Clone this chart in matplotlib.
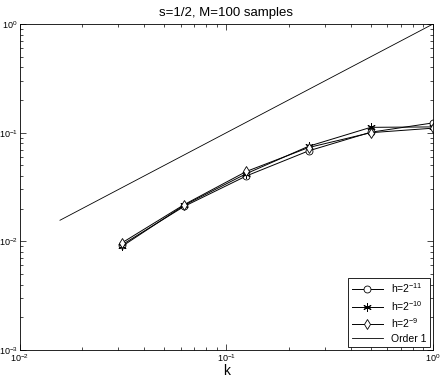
import matplotlib
matplotlib.use("Agg")
import matplotlib.pyplot as plt

plt.rcParams['font.family'] = ['Liberation Sans', 'DejaVu Sans']
plt.rcParams['mathtext.fontset'] = 'custom'
plt.rcParams['mathtext.rm'] = 'Liberation Sans'
plt.rcParams['mathtext.it'] = 'Liberation Sans'

k = [1/32, 1/16, 1/8, 1/4, 1/2, 1]
err_h11 = [0.0093, 0.0210, 0.0400, 0.0680, 0.1010, 0.1230]
err_h10 = [0.0090, 0.0215, 0.0420, 0.0750, 0.1120, 0.1130]
err_h9 = [0.0097, 0.0218, 0.0440, 0.0730, 0.1000, 0.1100]
k_order = [1/64, 1]
order1 = [1/64, 1]

fig = plt.figure(figsize=(4.44, 3.82), dpi=100)
ax = fig.add_axes([0.045, 0.084, 0.93, 0.853])

# matlab-style asterisk marker
star = (6, 2, 0)
ax.loglog(k, err_h11, '-o', color='k', lw=0.7, ms=5, mfc='white', mec='k', mew=0.6, label=r'h=2$^{-11}$')
ax.loglog(k, err_h10, '-', marker=star, color='k', lw=0.7, ms=6, mec='k', mew=0.7, label=r'h=2$^{-10}$')
ax.loglog(k, err_h9, '-d', color='k', lw=0.7, ms=5, mfc='white', mec='k', mew=0.6, label=r'h=2$^{-9}$')
ax.loglog(k_order, order1, '-', color='k', lw=0.6, label='Order 1')

ax.set_xlim(1e-2, 1)
ax.set_ylim(1e-3, 1)
ax.tick_params(which='both', direction='in', top=True, right=True, labelsize=6.5, width=0.5, pad=1.5)
ax.tick_params(which='major', length=4)
ax.tick_params(which='minor', length=2)
for s in ax.spines.values():
    s.set_linewidth(0.6)

ax.set_title('s=1/2, M=100 samples', fontsize=9.5, pad=6)
ax.set_xlabel('k', fontsize=10, labelpad=0)

leg = ax.legend(loc='lower right', fontsize=7.5, fancybox=False, framealpha=1,
                edgecolor='k', borderaxespad=0.3, handlelength=3, labelspacing=0.35,
                borderpad=0.3)
leg.get_frame().set_linewidth(0.6)

fig.savefig('out.png', dpi=100)
